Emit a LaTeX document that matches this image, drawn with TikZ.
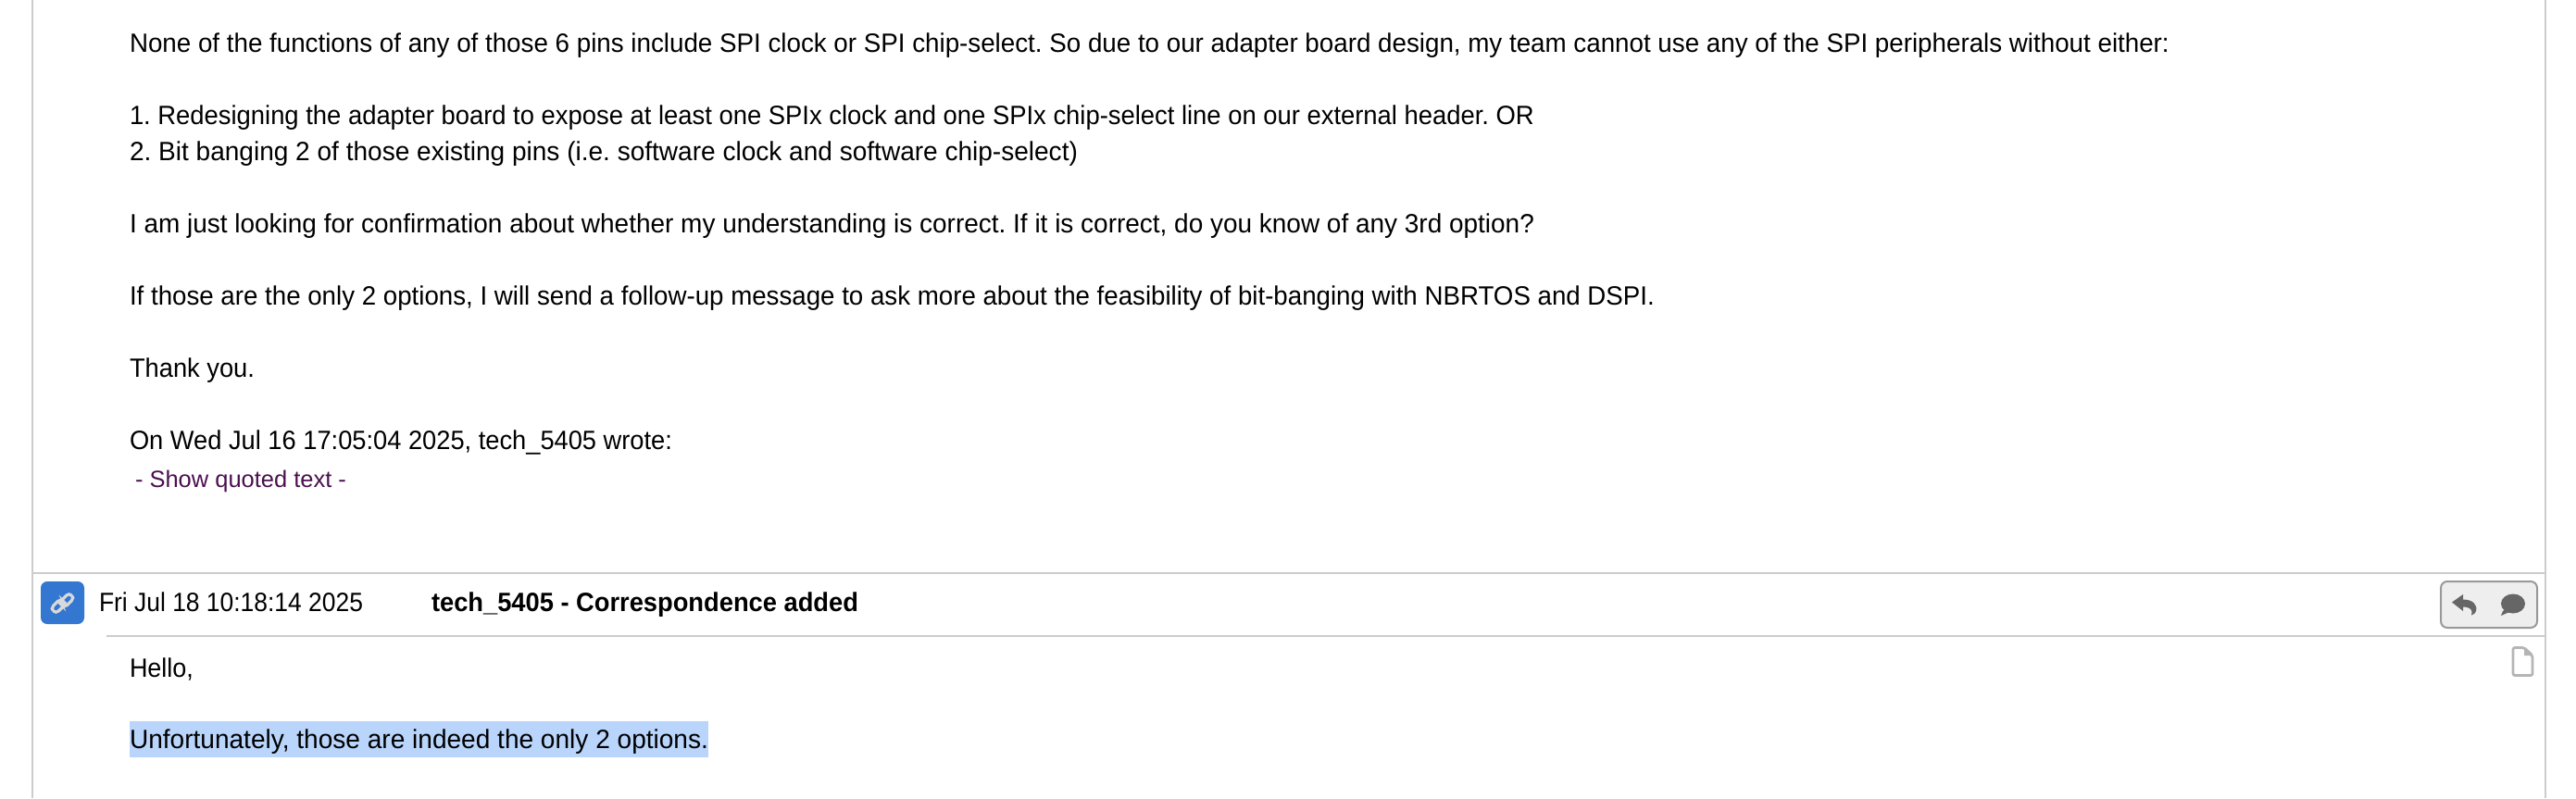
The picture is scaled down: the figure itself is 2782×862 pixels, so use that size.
\documentclass[tikz,border=0pt]{standalone}
\usepackage{fontspec}
\usepackage{graphicx}
\setmainfont{Liberation Sans}
\frenchspacing
\definecolor{rule}{HTML}{CCCCCC}
\definecolor{badge}{HTML}{3377D0}
\definecolor{linkc}{HTML}{D9D9D9}
\definecolor{hilite}{HTML}{B9D5FB}
\definecolor{quoted}{HTML}{4B0F50}
\definecolor{btnfill}{HTML}{EEEEEE}
\definecolor{btnline}{HTML}{999999}
\definecolor{icon}{HTML}{666666}
\definecolor{docline}{HTML}{B5B5B5}
\newcommand{\fitw}[2]{\resizebox{\dimexpr #1pt/2\relax}{\height}{#2}}
\tikzset{
  txt/.style={anchor=base west,inner sep=0pt,outer sep=0pt,font=\fontsize{14.3pt}{16pt}\selectfont,text=black},
  rulei/.style={draw=rule,line width=1.1pt},
}
\begin{document}
\begin{tikzpicture}[x=0.5pt,y=-0.5pt]
\useasboundingbox (0,0) rectangle (2782,862);
\fill[white] (0,0) rectangle (2782,862);
% frame rules
\draw[rulei] (35,0) -- (35,862);
\draw[rulei] (2749,0) -- (2749,862);
\draw[rulei] (35,619) -- (2749,619);
\draw[rulei] (115,687) -- (2749,687);
% highlight
\fill[hilite] (140,779) rectangle (765,818);
% body text
\node[txt] (l1) at (140,56) {\fitw{2203}{None of the functions of any of those 6 pins include SPI clock or SPI chip-select. So due to our adapter board design, my team cannot use any of the SPI peripherals without either:}};
\node[txt] (l2) at (140,134) {\fitw{1517}{1. Redesigning the adapter board to expose at least one SPIx clock and one SPIx chip-select line on our external header. OR}};
\node[txt] (l3) at (140,173) {\fitw{1024}{2. Bit banging 2 of those existing pins (i.e. software clock and software chip-select)}};
\node[txt] (l4) at (140,251) {\fitw{1517}{I am just looking for confirmation about whether my understanding is correct. If it is correct, do you know of any 3rd option?}};
\node[txt] (l5) at (140,329) {\fitw{1647}{If those are the only 2 options, I will send a follow-up message to ask more about the feasibility of bit-banging with NBRTOS and DSPI.}};
\node[txt] (l6) at (140,407) {\fitw{135}{Thank you.}};
\node[txt] (l7) at (140,485) {\fitw{586}{On Wed Jul 16 17:05:04 2025, tech\_5405 wrote:}};
\node[txt,text=quoted,font=\fontsize{12.7pt}{15pt}\selectfont] (q) at (146,526) {\fitw{228}{- Show quoted text -}};
% header row
\fill[badge,rounded corners=3.5pt] (44,628) rectangle (91,674);
\begin{scope}[shift={(67.5,651.5)},rotate=45]
  \draw[linkc,line width=1.6pt,rounded corners=2pt] (-13,-5) rectangle (2,3);
  \draw[linkc,line width=1.6pt,rounded corners=2pt] (-2,-3) rectangle (13,5);
\end{scope}
\node[txt] (date) at (107,660) {\fitw{285}{Fri Jul 18 10:18:14 2025}};
\node[txt,font=\fontsize{14.3pt}{16pt}\selectfont\bfseries] (who) at (466,660) {\fitw{461}{tech\_5405 - Correspondence added}};
% button
\draw[draw=btnline,fill=btnfill,line width=1pt,rounded corners=3.5pt] (2636,628) rectangle (2740,678);
% reply arrow
\fill[icon] (2648,650.5) -- (2660,642) -- (2660,647.5)
  .. controls (2670,647.5) and (2676,653) .. (2674,660)
  .. controls (2673.5,662) and (2672,663.5) .. (2669,664.5)
  .. controls (2671,659) and (2668,655.5) .. (2660,655.5)
  -- (2660,660) -- cycle;
% speech bubble
\fill[icon] (2714,652) ellipse [x radius=13,y radius=10.5];
\fill[icon] (2706,658) -- (2710,661) -- (2701,665) -- (2703,660) -- cycle;
% document icon
\draw[docline,line width=1.4pt,line join=round,rounded corners=1pt] (2714,699.5) -- (2726,699.5) -- (2735,708) -- (2735,729.5) -- (2714,729.5) -- cycle;
\fill[docline] (2726,699.5) -- (2726,708) -- (2735,708) -- cycle;
% reply text
\node[txt] (hello) at (140,731) {\fitw{69}{Hello,}};
\node[txt] (unf) at (140,808) {\fitw{625}{Unfortunately, those are indeed the only 2 options.}};
\end{tikzpicture}
\end{document}
